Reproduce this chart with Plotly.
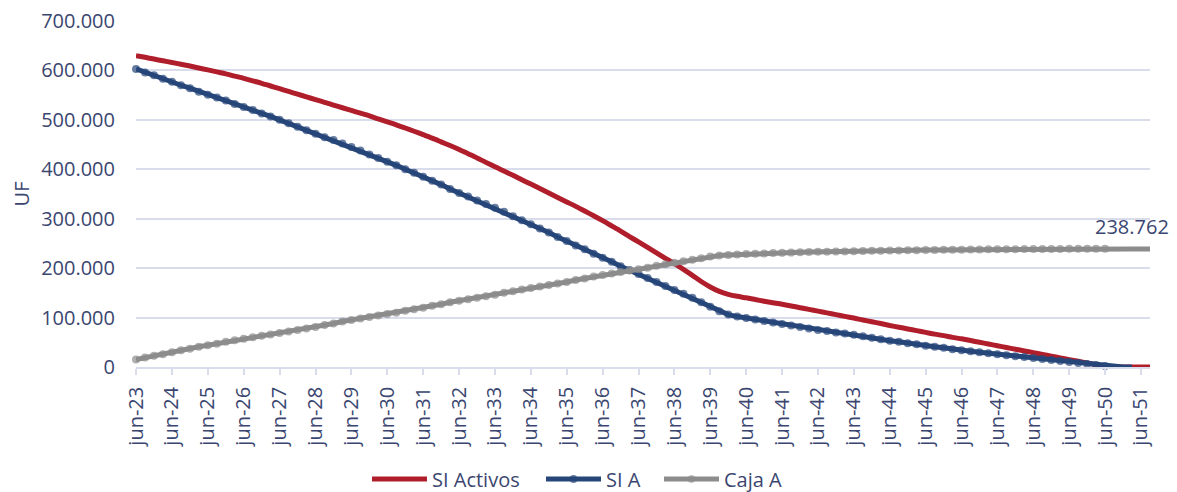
import pandas as pd
import plotly.graph_objects as go

# Quarterly values, thousands of UF (jun, sep, dec, mar of each year starting jun-23)
si_activos_k = [
    630, 626.5, 623, 619.5,
    616, 612.5, 609, 605,
    601, 597, 593, 588.5,
    584, 579, 574, 568.5,
    563, 557.5, 552, 546.5,
    541, 535.5, 530, 524.5,
    519, 513.5, 508, 502,
    496, 490, 483.5, 477,
    470, 463, 455.5, 448,
    440, 431.5, 423, 414,
    405, 396.5, 388, 379,
    370, 361, 352, 343,
    334, 325, 315.5, 306,
    296, 285.5, 275, 264,
    253, 242, 231, 220,
    209, 197.5, 185.5, 173,
    162, 153, 147, 143,
    140, 136.5, 133, 130,
    127, 123.5, 120, 116.5,
    113, 109.5, 106, 102.5,
    99, 95, 91.5, 88,
    84, 80.5, 77, 73.5,
    70, 66.5, 63.5, 60,
    57, 53.5, 50, 46.5,
    43, 39.5, 36, 32.5,
    29, 25.5, 22, 18.5,
    15, 11.5, 8, 4.5,
    1, 0, 0, 0,
    0, 0,
]

si_a_k = [
    603, 596, 590, 583,
    577, 570, 564, 557,
    551, 545, 539, 532,
    526, 520, 513, 507,
    500, 493, 486, 479,
    472, 465, 459, 452,
    445, 438, 430, 423,
    415, 408, 400, 393,
    385, 377, 369, 360,
    352, 345, 337, 330,
    322, 314, 305, 297,
    289, 280, 272, 263,
    255, 246, 238, 229,
    221, 213, 204, 196,
    188, 180, 172, 164,
    156, 148, 140, 131,
    122, 113, 106, 102,
    99, 96, 93, 90,
    87, 84, 81, 78,
    75, 73, 70, 68,
    65, 62, 59, 56,
    53, 51, 48, 46,
    43, 41, 39, 36,
    34, 32, 30, 28,
    26, 24, 22, 20,
    18, 16, 14, 12,
    10, 8, 6, 4,
    2, 0, 0, 0,
]

caja_a_k = [
    15, 19, 23, 26,
    30, 34, 37, 41,
    44, 47, 51, 54,
    57, 60, 63, 66,
    69, 72, 75, 78,
    81, 85, 88, 92,
    95, 98, 101, 104,
    107, 110, 114, 117,
    120, 124, 127, 131,
    134, 137, 140, 143,
    146, 150, 153, 157,
    160, 163, 166, 169,
    172, 176, 179, 183,
    186, 189, 192, 195,
    198, 201, 205, 208,
    211, 214, 217, 220,
    223.5, 225.5, 226.5, 227.5,
    228.5, 229, 229.5, 230.5,
    231, 231.5, 232, 232.5,
    233, 233.3, 233.6, 233.9,
    234.2, 234.6, 235, 235.3,
    235.6, 235.9, 236.1, 236.3,
    236.6, 236.8, 237, 237.2,
    237.4, 237.6, 237.8, 238,
    238.1, 238.3, 238.4, 238.5,
    238.6, 238.7, 238.8, 238.9,
    239, 239.1, 239.2, 239.3,
    239.3, 238.762, 238.762, 238.762,
    238.762, 238.762,
]

tick_labels = ["jun-23", "jun-24", "jun-25", "jun-26", "jun-27", "jun-28", "jun-29",
               "jun-30", "jun-31", "jun-32", "jun-33", "jun-34", "jun-35", "jun-36",
               "jun-37", "jun-38", "jun-39", "jun-40", "jun-41", "jun-42", "jun-43",
               "jun-44", "jun-45", "jun-46", "jun-47", "jun-48", "jun-49", "jun-50",
               "jun-51"]
series_names = ["SI Activos", "SI A", "Caja A"]
final_label = "238.762"

dates_red = pd.date_range("2023-06-01", periods=len(si_activos_k), freq="3MS")
dates_blue = pd.date_range("2023-06-01", periods=len(si_a_k), freq="3MS")
dates_gray = pd.date_range("2023-06-01", periods=len(caja_a_k), freq="3MS")
tick_vals = pd.date_range("2023-06-01", periods=len(tick_labels), freq="12MS")

RED = "#B01E2C"
BLUE = "#264679"
GRAY = "#8C8C8C"
TXT = "#3A4670"
GRID = "#D9DCEB"
FONT = "Open Sans"
# page body has an 8px margin, so the figure is 8px smaller than the window
W, H = 1169, 484

cut = pd.Timestamp("2050-07-01")
def msizes(dates):
    return [8 if d < cut else 0 for d in dates]

fig = go.Figure()
fig.add_trace(go.Scatter(
    x=dates_red, y=[v * 1000 for v in si_activos_k], name=series_names[0],
    mode="lines", line=dict(color=RED, width=5, shape="spline", smoothing=0.8),
    cliponaxis=False, legend="legend",
))
fig.add_trace(go.Scatter(
    x=dates_blue, y=[v * 1000 for v in si_a_k], name=series_names[1],
    mode="lines+markers", line=dict(color=BLUE, width=5),
    marker=dict(color=BLUE, size=msizes(dates_blue), line=dict(width=0)),
    cliponaxis=False, legend="legend2",
))
fig.add_trace(go.Scatter(
    x=dates_gray, y=[v * 1000 for v in caja_a_k], name=series_names[2],
    mode="lines+markers", line=dict(color=GRAY, width=5),
    marker=dict(color=GRAY, size=msizes(dates_gray), line=dict(width=0)),
    cliponaxis=False, legend="legend3",
))

fig.add_annotation(
    x=dates_gray[-1], y=caja_a_k[-1] * 1000, text=final_label, showarrow=False,
    xanchor="right", yanchor="middle", xshift=21, yshift=22,
    font=dict(family=FONT, size=20, color=TXT),
)

def leg(px_left):
    return dict(
        orientation="h", xref="container", yref="container",
        x=px_left / W, xanchor="left", y=1 - 471 / H, yanchor="middle",
        font=dict(family=FONT, size=20, color=TXT), itemwidth=55,
        bgcolor="rgba(0,0,0,0)", borderwidth=0,
    )

fig.update_layout(
    width=W, height=H,
    margin=dict(l=128, r=27, t=13, b=125, autoexpand=False),
    paper_bgcolor="white", plot_bgcolor="white",
    separators=",.",
    font=dict(family=FONT, size=20, color=TXT),
    showlegend=True,
    legend=leg(359), legend2=leg(533), legend3=leg(651),
    hovermode=False,
)
fig.update_xaxes(
    type="date", range=[dates_gray[0], dates_gray[-1]], automargin=False,
    tickmode="array", tickvals=tick_vals, ticktext=tick_labels, tickangle=-90,
    ticks="outside", ticklen=6, tickcolor=GRID, tickwidth=1.5,
    showgrid=False, showline=True, linecolor=GRID, linewidth=1.5,
    tickfont=dict(family=FONT, size=20, color=TXT), ticklabelstandoff=4,
    ticklabeloverflow="allow", zeroline=False,
)
fig.update_yaxes(
    range=[0, 700000], tickmode="linear", tick0=0, dtick=100000, tickformat=",.0f",
    automargin=False, ticklabeloverflow="allow",
    showgrid=True, gridcolor=GRID, gridwidth=1.5, zeroline=False, showline=False,
    ticks="", tickfont=dict(family=FONT, size=20, color=TXT), ticklabelstandoff=20,
    title=dict(text="UF", font=dict(family=FONT, size=20, color=TXT), standoff=15),
)

fig.write_html("out.html")
